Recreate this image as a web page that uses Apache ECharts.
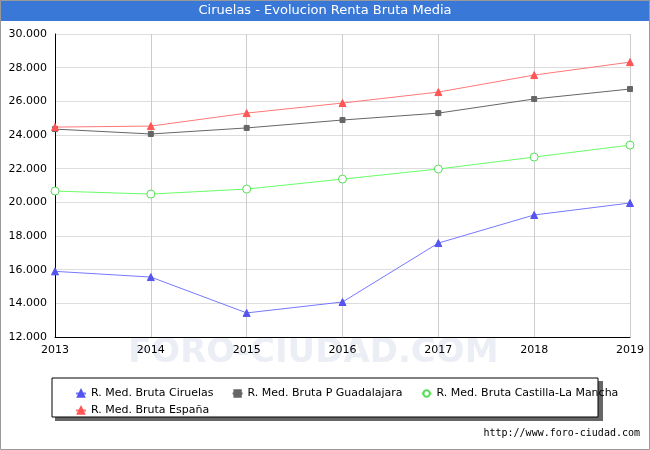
<!DOCTYPE html>
<html lang="es">
<head>
<meta charset="UTF-8">
<title>Ciruelas</title>
<script src="https://cdn.jsdelivr.net/npm/echarts@6/dist/echarts.min.js"></script>
<style>html,body{margin:0;padding:0;background:#fff}#c{width:650px;height:450px}</style>
</head>
<body>
<div id="c"></div>
<script>
let years=['2013','2014','2015','2016','2017','2018','2019'];
let ciruelas=[15900,15560,13430,14080,17580,19250,19960];
let guadalajara=[24350,24060,24420,24890,25300,26140,26730];
let clm=[20670,20490,20790,21380,21980,22690,23400];
let espana=[24470,24530,25300,25900,26550,27560,28330];
let names=['R. Med. Bruta Ciruelas','R. Med. Bruta P Guadalajara','R. Med. Bruta Castilla-La Mancha','R. Med. Bruta España'];

let chart=echarts.init(document.getElementById('c'));
function fmt(v){return v.toLocaleString('de-DE',{minimumFractionDigits:3}).replace(',','.').replace(/\.(\d{3})$/,'.$1');}
function mk(name,data,color,symColor,symbol,size,hollow){
    return {
        name,type:'line',data,symbol,symbolSize:size,
        lineStyle:{color,width:1},
        itemStyle:{color:hollow?'#fff':symColor,borderColor:symColor,borderWidth:1},
        emphasis:{disabled:true},animation:false
    };
}
chart.setOption({
    animation:false,
    graphic:[
        {type:'rect',shape:{x:0,y:0,width:650,height:21},style:{fill:'#3a78d8'}},
        {type:'text',left:'center',top:4,style:{text:'Ciruelas - Evolucion Renta Bruta Media',fill:'#fff',font:'13px "DejaVu Sans"'}},
        {type:'rect',shape:{x:0.5,y:0.5,width:649,height:449},style:{fill:'none',stroke:'#999'}},
        {type:'text',left:128,top:336,z:0,style:{text:'FORO-CIUDAD.COM',fill:'rgba(200,205,225,0.35)',font:'bold 34px "DejaVu Sans"'}},
        {type:'rect',shape:{x:55,y:381,width:548,height:40},style:{fill:'#666'}},
        {type:'rect',shape:{x:52,y:378,width:546,height:39},style:{fill:'#fff',stroke:'#000',lineWidth:1}},
        {type:'text',right:10,top:428,style:{text:'http://www.foro-ciudad.com',fill:'#000',font:'10px "DejaVu Sans Mono"'}}
    ],
    grid:{left:55,right:20,top:34,bottom:113},
    xAxis:{type:'category',data:years,boundaryGap:false,
        axisLine:{lineStyle:{color:'#000'}},axisTick:{show:false},
        axisLabel:{color:'#000',fontSize:11,fontFamily:'DejaVu Sans'},
        splitLine:{show:true,lineStyle:{color:'#ccc'}}},
    yAxis:{type:'value',min:12000,max:30000,interval:2000,
        axisLine:{show:true,lineStyle:{color:'#000'}},axisTick:{show:false},
        axisLabel:{color:'#000',fontSize:11,fontFamily:'DejaVu Sans',formatter:v=>(v/1000).toFixed(3)},
        splitLine:{lineStyle:{color:'#ddd'}}},
    legend:[
        {left:70,top:383,itemGap:18,itemWidth:10,itemHeight:8,data:names.slice(0,3),
         textStyle:{fontSize:11,fontFamily:'DejaVu Sans',color:'#000'}},
        {left:70,top:400,itemWidth:10,itemHeight:8,data:[names[3]],
         textStyle:{fontSize:11,fontFamily:'DejaVu Sans',color:'#000'}}
    ],
    series:[
        mk(names[0],ciruelas,'#7777ff','#5555ee','triangle',7,false),
        mk(names[1],guadalajara,'#666','#666','rect',5,false),
        mk(names[2],clm,'#66ff66','#55dd55','circle',8,true),
        mk(names[3],espana,'#ff7777','#ff5555','triangle',7,false)
    ]
});
</script>
</body>
</html>
